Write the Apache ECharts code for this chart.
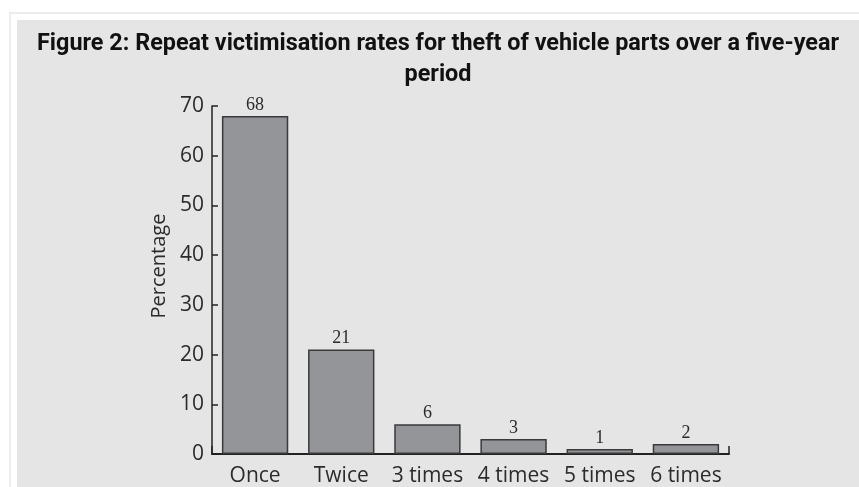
<!DOCTYPE html>
<html>
<head>
<meta charset="utf-8">
<script src="https://cdn.jsdelivr.net/npm/echarts@6/dist/echarts.min.js"></script>
<style>
  body { margin: 0; background: #ffffff; }
  #frame { position: absolute; left: 9px; top: 12px; width: 860px; height: 480px;
           border-top: 2px solid #ececec; border-left: 2px solid #ececec; }
  #main { position: absolute; left: 17px; top: 20px; width: 842px; height: 467px; background: #e5e5e5; }
</style>
</head>
<body>
<div id="frame"></div>
<div id="main"></div>
<script>
// categories and values
var categories = ['Once', 'Twice', '3 times', '4 times', '5 times', '6 times'];
var percentages = [68, 21, 6, 3, 1, 2];
var yMin = 0, yMax = 70, yStep = 10;

var titleLines = ['Figure 2: Repeat victimisation rates for theft of vehicle parts over a five-year', 'period'];
var titleFont = 'bold 24px Roboto, "Liberation Sans", sans-serif';

// no condensed bold font here, so squeeze the title to the width it has in the figure
var ctx = document.createElement('canvas').getContext('2d');
ctx.font = titleFont;
var titleScale = 802 / ctx.measureText(titleLines[0]).width;

var myChart = echarts.init(document.getElementById('main'));
var option = {
    animation: false,
    graphic: [{
        type: 'text',
        x: 421,
        y: 8,
        scaleX: titleScale,
        style: {
            text: titleLines.join('\n'),
            font: titleFont,
            lineHeight: 31,
            textAlign: 'center',
            textVerticalAlign: 'top',
            fill: '#111'
        }
    }],
    grid: {
        left: 195,
        right: 130,
        top: 86,
        bottom: 33
    },
    xAxis: {
        type: 'category',
        data: categories,
        axisLine: {lineStyle: {color: '#222', width: 2}},
        // only the tick closing the axis on the right
        axisTick: {
            show: true,
            inside: true,
            length: 8,
            interval: function (i) { return i === categories.length - 1; },
            lineStyle: {color: '#222', width: 1.5}
        },
        axisLabel: {
            interval: 0,
            margin: 12,
            fontFamily: '"Open Sans", sans-serif',
            fontSize: 21,
            color: '#2b2b2b'
        }
    },
    yAxis: {
        type: 'value',
        min: yMin,
        max: yMax,
        interval: yStep,
        name: 'Percentage',
        nameLocation: 'middle',
        nameGap: 40,
        nameTextStyle: {
            fontFamily: '"Open Sans", sans-serif',
            fontSize: 20,
            color: '#2b2b2b',
            padding: [0, 0, 0, 28]
        },
        splitLine: {show: false},
        axisLine: {show: true, lineStyle: {color: '#222', width: 1.5}},
        axisTick: {show: true, inside: true, length: 6, lineStyle: {color: '#222', width: 1.5}},
        axisLabel: {
            margin: 8,
            fontFamily: '"Open Sans", sans-serif',
            fontSize: 21,
            color: '#2b2b2b'
        }
    },
    series: [{
        type: 'bar',
        data: percentages,
        barCategoryGap: '23%',
        itemStyle: {
            color: '#939598',
            borderColor: '#3a3a3a',
            borderWidth: 1.5
        },
        label: {
            show: true,
            position: 'top',
            distance: 2,
            fontFamily: '"Liberation Serif", serif',
            fontSize: 18,
            color: '#2b2b2b'
        }
    }]
};
myChart.setOption(option);
</script>
</body>
</html>
